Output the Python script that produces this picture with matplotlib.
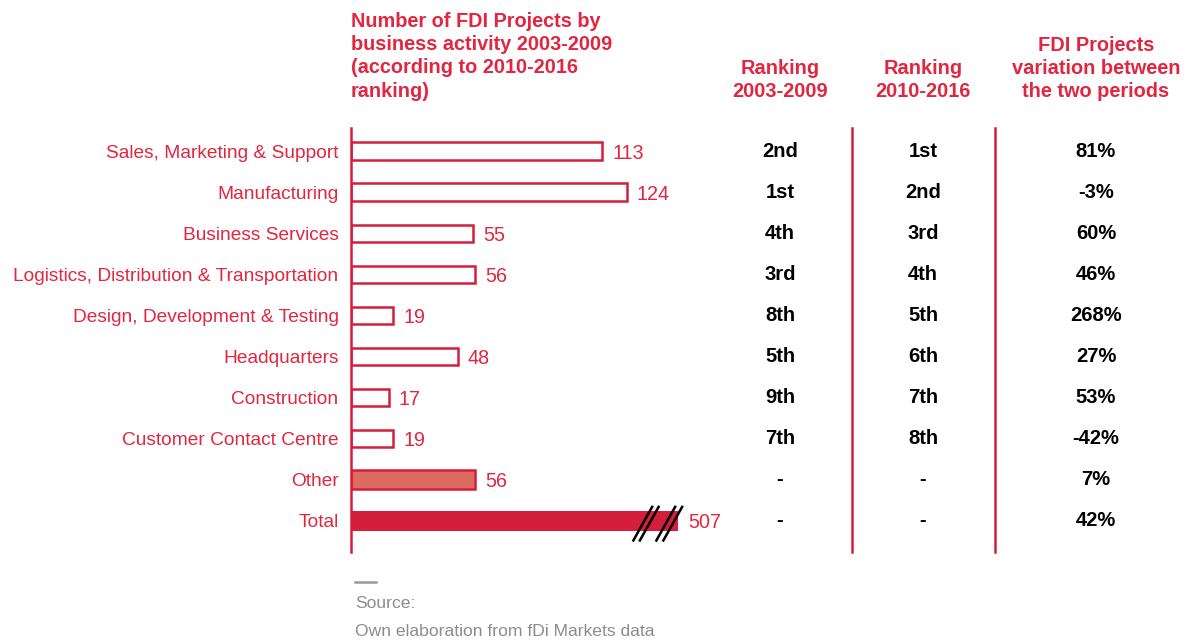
import numpy as np
import matplotlib.pyplot as plt
from matplotlib.lines import Line2D
from matplotlib.transforms import blended_transform_factory

plt.rcParams['font.family'] = ['Liberation Sans', 'DejaVu Sans']

categories = ['Sales, Marketing & Support', 'Manufacturing', 'Business Services',
              'Logistics, Distribution & Transportation', 'Design, Development & Testing',
              'Headquarters', 'Construction', 'Customer Contact Centre', 'Other', 'Total']
projects = [113, 124, 55, 56, 19, 48, 17, 19, 56, 507]
rank_0309 = ['2nd', '1st', '4th', '3rd', '8th', '5th', '9th', '7th', '-', '-']
rank_1016 = ['1st', '2nd', '3rd', '4th', '5th', '6th', '7th', '8th', '-', '-']
variation = ['81%', '-3%', '60%', '46%', '268%', '27%', '53%', '-42%', '7%', '42%']

RED = '#D41F3C'
LABEL_RED = '#E2263F'
OTHER_FILL = '#DB6D60'
GREY = '#8C8C8C'

W, H = 1196, 640
fig = plt.figure(figsize=(W / 100, H / 100), dpi=100)

# bars axes: left spine at x=351px, top 128px, bottom 552px
ax_left, ax_right, ax_top, ax_bot = 351, 740, 128, 552
ax = fig.add_axes([ax_left / W, 1 - ax_bot / H, (ax_right - ax_left) / W, (ax_bot - ax_top) / H])
xmax = 175
ppu = (ax_right - ax_left) / xmax  # pixels per unit
pitch = 41.1
ax.set_xlim(0, xmax)
ax.set_ylim(9 + 31 / pitch, -23 / pitch)

cap = 147  # Total bar is drawn broken
y = np.arange(len(categories))
shown = np.minimum(projects, cap)
for i, (v, s) in enumerate(zip(projects, shown)):
    if categories[i] == 'Total':
        ax.barh(i, s, height=0.48, color=RED, edgecolor='none')
    elif categories[i] == 'Other':
        ax.barh(i, s, height=0.46, color=OTHER_FILL, edgecolor=RED, linewidth=1.8)
    else:
        ax.barh(i, s, height=0.42, color='white', edgecolor=RED, linewidth=1.8)
    ax.text(s + 10 / ppu, i + 2 / pitch, str(v), color=LABEL_RED, fontsize=14.2,
            va='center', ha='left')

# axis break marks on the Total bar
it = categories.index('Total')
for off in [-45, -38.5, -22, -15]:
    ax.plot([cap + off / ppu, cap + (off + 20) / ppu], [it + 0.5, it - 0.37],
            color='black', lw=1.8, solid_capstyle='butt', clip_on=False)

ax.set_yticks(y)
ax.set_yticklabels(categories, color=LABEL_RED, fontsize=13.8)
ax.tick_params(axis='y', length=0, pad=9)
ax.set_xticks([])
for sp in ['top', 'right', 'bottom']:
    ax.spines[sp].set_visible(False)
ax.spines['left'].set_color(RED)
ax.spines['left'].set_linewidth(1.8)
ax.patch.set_alpha(0)

# table columns
tr = blended_transform_factory(fig.transFigure, ax.transData)
cols = [(780, rank_0309), (923, rank_1016), (1096, variation)]
for cx, vals in cols:
    for i, t in enumerate(vals):
        ax.text(cx / W, i, t, transform=tr, ha='center', va='center',
                fontsize=14.5, fontweight='bold', color='black')

for sx in [852, 995]:
    fig.add_artist(Line2D([sx / W, sx / W], [1 - ax_top / H, 1 - ax_bot / H],
                          color=RED, lw=1.8, transform=fig.transFigure))

# headers
fig.text(ax_left / W, 1 - 12 / H,
         'Number of FDI Projects by\nbusiness activity 2003-2009\n(according to 2010-2016\nranking)',
         ha='left', va='top', fontsize=14.3, fontweight='bold', color=LABEL_RED, linespacing=1.28)
heads = [(780, 'Ranking\n2003-2009'), (923, 'Ranking\n2010-2016'),
         (1096, 'FDI Projects\nvariation between\nthe two periods')]
for hx, t in heads:
    fig.text(hx / W, 1 - 101 / H, t, ha='center', va='bottom', fontsize=14.4,
             fontweight='bold', color=LABEL_RED, linespacing=1.28)

# source
fig.add_artist(Line2D([355 / W, 376 / W], [1 - 582 / H, 1 - 582 / H],
                      color='#9A9A9A', lw=1.8, transform=fig.transFigure))
fig.text(355 / W, 1 - 604 / H, 'Source:', ha='left', va='center', fontsize=12.6, color=GREY)
fig.text(355 / W, 1 - 631 / H, 'Own elaboration from fDi Markets data', ha='left',
         va='center', fontsize=12.6, color=GREY)

fig.savefig('out.png', dpi=100)
